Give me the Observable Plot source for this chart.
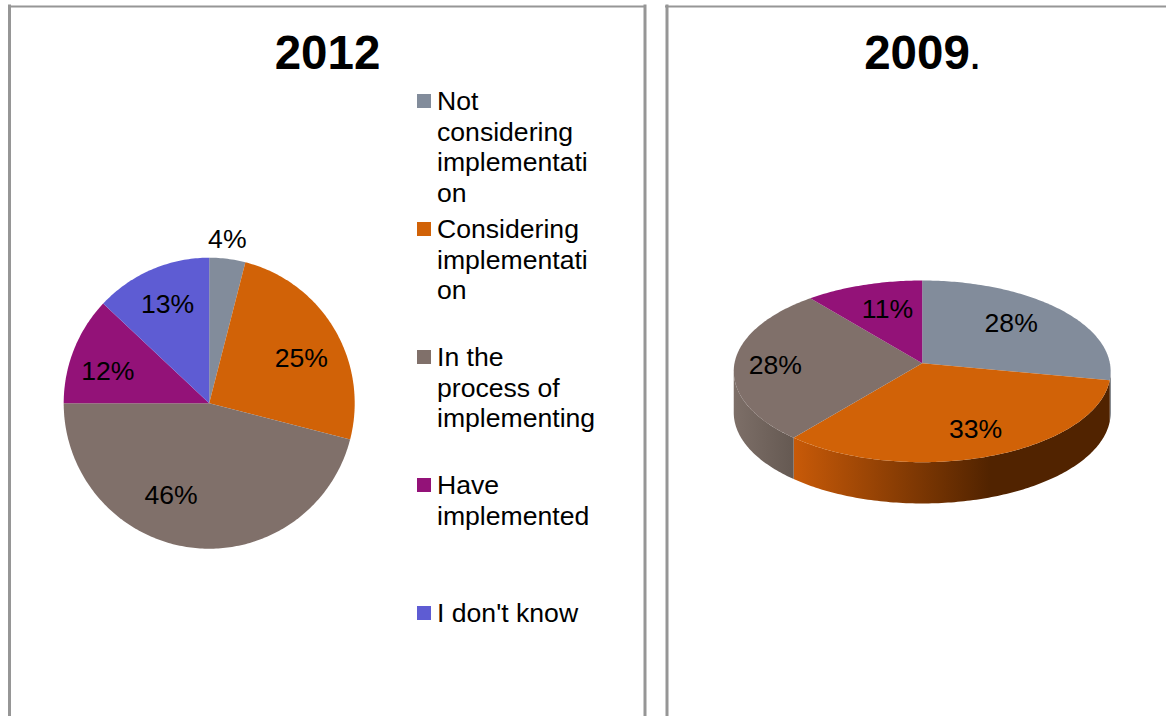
<!DOCTYPE html>
<html>
<head>
<meta charset="utf-8">
<style>
  html, body { margin: 0; padding: 0; background: #fff; }
  svg { display: block; }
</style>
<script src="https://cdn.jsdelivr.net/npm/d3@7"></script>
<script src="https://cdn.jsdelivr.net/npm/@observablehq/plot@0.6"></script>
</head>
<body>
<script>
// Survey responses, in percent
const categories = ["Not considering", "Considering", "In process", "Have implemented", "Don't know"];
const values2012 = [4, 25, 46, 12, 13];
const values2009 = [28, 33, 28, 11];
const legendLabels = [
  ["Not", "considering", "implementati", "on"],
  ["Considering", "implementati", "on"],
  ["In the", "process of", "implementing"],
  ["Have", "implemented"],
  ["I don't know"]
];
const sliceColors = ["#828c9b", "#d16207", "#80706a", "#931278", "#5e5cd3"];

// Layout, in page units
const W = 1166, H = 716;
const flat = {cx: 208.7, cy: 402.7, r: 145.5};
// Tilted disc: a circle seen through a perspective divide
const tilt = {cx: 921.7, cy: 362.7, a: 187.7, b: 90.1, k: 0.0897, depth: 41.3};
const FONT = "Liberation Sans, Arial, Helvetica, sans-serif";
const LABEL_SIZE = 26.6;

const rad = (t) => t * 2 * Math.PI / 100; // percent of the turn to radians
const flatAt = (t, f = 1) => [flat.cx + f * flat.r * Math.sin(rad(t)), flat.cy - f * flat.r * Math.cos(rad(t))];
const tiltAt = (t, f = 1) => {
  const u = f * Math.sin(rad(t)), v = f * Math.cos(rad(t)), w = 1 + tilt.k * v;
  return [tilt.cx + tilt.a * u / w, tilt.cy - tilt.b * v / w];
};

// Consecutive slices as {key, start, end, value}
function slices(values) {
  let sum = 0;
  return values.map((value, i) => {
    const s = {key: categories[i], start: sum, end: sum + value, value};
    sum += value;
    return s;
  });
}
function arcPoints(start, end, at, shift = 0) {
  const n = Math.max(2, Math.ceil((end - start) * 4));
  return d3.range(n + 1).map((i) => {
    const [x, y] = at(start + (end - start) * i / n);
    return [x, y + shift];
  });
}
function wedges(values, at) {
  return slices(values).flatMap((s) =>
    [at(s.start, 0), ...arcPoints(s.start, s.end, at), at(s.start, 0)].map(([x, y]) => ({x, y, key: s.key}))
  );
}
// Outline of the rim wall of one slice, limited to the side that faces the viewer
function wall(start, end) {
  const top = arcPoints(start, end, tiltAt);
  const bottom = arcPoints(start, end, tiltAt, tilt.depth).reverse();
  return [...top, ...bottom, top[0]].map(([x, y]) => ({x, y}));
}
// Percent labels sit at a fraction of the radius on each slice's middle, then get a small offset
function labels(values, at, frac, nudges) {
  return slices(values).map((s, i) => {
    const [x, y] = at((s.start + s.end) / 2, frac);
    return {x: x + nudges[i][0], y: y + nudges[i][1], text: `${s.value}%`};
  });
}

const flatLabels = labels(values2012, flatAt, 0.72, [[5, -60], [2, 9], [-25, -12], [-4, 7], [0, -3]]);
const tiltLabels = labels(values2009, tiltAt, 0.66, [[-3, -3], [9, 7], [-23, 2], [5, -1]]);

// Silhouette extremes of the tilted disc
const samples = d3.range(0, 100, 0.1);
const rightEdge = d3.greatest(samples, (t) => tiltAt(t)[0]);
const leftEdge = d3.least(samples, (t) => tiltAt(t)[0]);
const s09 = slices(values2009);

// Legend rows
const legendTop = 94, legendStep = 128, lineStep = 30.6;
const swatches = legendLabels.map((_, i) => ({
  key: categories[i], y1: legendTop + i * legendStep, y2: legendTop + i * legendStep + 14
}));
const legendLines = legendLabels.flatMap((lines, i) =>
  lines.map((text, j) => ({text, y: legendTop + 7 + i * legendStep + j * lineStep}))
);

const defs = () => {
  const d = d3.create("svg:defs");
  const gradient = (id, x1, x2, stops) => {
    const g = d.append("linearGradient").attr("id", id)
      .attr("gradientUnits", "userSpaceOnUse")
      .attr("x1", x1).attr("x2", x2).attr("y1", 0).attr("y2", 0);
    stops.forEach(([o, c]) => g.append("stop").attr("offset", o).attr("stop-color", c));
  };
  gradient("wallOrange", 793, 990, [[0, "#c85a08"], [1, "#512300"]]);
  gradient("wallBrown", 733, 793, [[0, "#7d6f68"], [1, "#655952"]]);
  return d.node();
};

const frameColor = "#969696";
const chart = Plot.plot({
  width: W, height: H, margin: 0,
  x: {domain: [0, W], range: [0, W], axis: null},
  y: {domain: [0, H], range: [0, H], axis: null},
  color: {type: "ordinal", domain: categories, range: sliceColors},
  style: {background: "#fff", fontFamily: FONT},
  marks: [
    defs,
    // Panel frames, open at the bottom
    Plot.ruleX([9, 644.5, 666.5], {y1: 4.5, y2: H, stroke: frameColor, strokeWidth: 3}),
    Plot.ruleY([6], {x1: 8, x2: 646, stroke: frameColor, strokeWidth: 2}),
    Plot.ruleY([6], {x1: 665, x2: W, stroke: frameColor, strokeWidth: 2}),

    // 2012 pie
    Plot.line(wedges(values2012, flatAt), {x: "x", y: "y", fill: "key", stroke: "none", curve: "linear"}),
    Plot.text(flatLabels, {x: "x", y: "y", text: "text", fontSize: LABEL_SIZE, fill: "#000"}),

    // 2009 tilted pie: rim walls first, the top face over them
    Plot.line(wall(rightEdge, s09[0].end), {x: "x", y: "y", fill: "#4a4f57", stroke: "none"}),
    Plot.line(wall(s09[1].start, s09[1].end), {x: "x", y: "y", fill: "url(#wallOrange)", stroke: "none"}),
    Plot.line(wall(s09[2].start, leftEdge), {x: "x", y: "y", fill: "url(#wallBrown)", stroke: "none"}),
    Plot.line(wedges(values2009, tiltAt), {x: "x", y: "y", fill: "key", stroke: "none", curve: "linear"}),
    Plot.text(tiltLabels, {x: "x", y: "y", text: "text", fontSize: LABEL_SIZE, fill: "#000"}),

    // Legend
    Plot.rect(swatches, {x1: 417, x2: 431, y1: "y1", y2: "y2", fill: "key", inset: 0}),
    Plot.text(legendLines, {x: 436.5, y: "y", text: "text", textAnchor: "start", fontSize: LABEL_SIZE, fill: "#000"}),

    // Titles
    Plot.text(["2012"], {x: 327, y: 53, text: (d) => d, fontSize: 47.5, fontWeight: "bold", fill: "#000"}),
    Plot.text(["2009"], {x: 916.5, y: 53, text: (d) => d, fontSize: 47.5, fontWeight: "bold", fill: "#000"}),
    Plot.text(["."], {x: 974.5, y: 53, text: (d) => d, fontSize: 47.5, fill: "#000"})
  ]
});
document.body.append(chart);
</script>
</body>
</html>
